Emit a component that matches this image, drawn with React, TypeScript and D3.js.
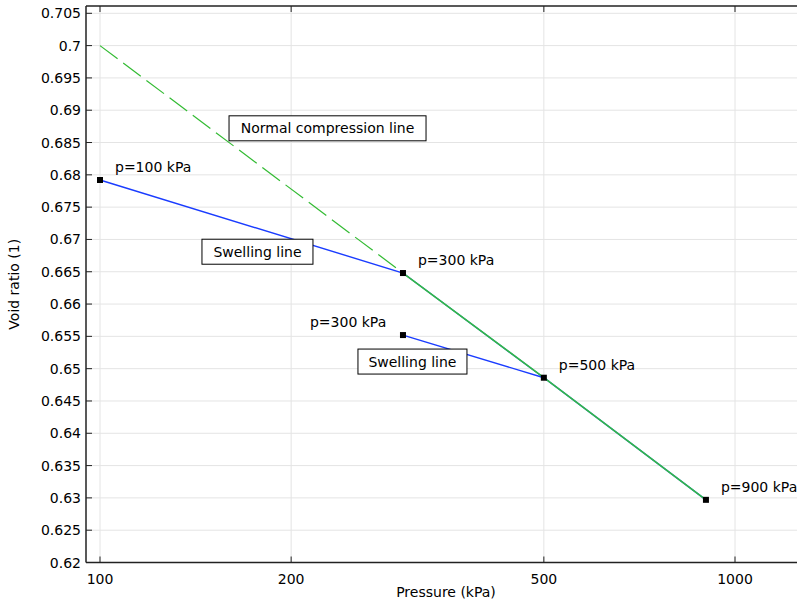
import React from "react";
import * as d3 from "d3";

const xTicks = [100, 200, 500, 1000];
const yTicks = [0.62, 0.625, 0.63, 0.635, 0.64, 0.645, 0.65, 0.655, 0.66, 0.665, 0.67, 0.675, 0.68, 0.685, 0.69, 0.695, 0.7, 0.705];

// Normal compression line
const nclDashedP = [100, 300];
const nclDashedE = [0.7, 0.6648];
const nclSolidP = [300, 500, 900];
const nclSolidE = [0.6648, 0.6486, 0.6297];

// Loading path (swelling / reloading)
const pathP = [100, 300, 500, 300, 500, 900];
const pathE = [0.6792, 0.6648, 0.6486, 0.6552, 0.6486, 0.6297];

// Marked points
const markP = [100, 300, 300, 500, 900];
const markE = [0.6792, 0.6648, 0.6552, 0.6486, 0.6297];
const markLabels = ["p=100 kPa", "p=300 kPa", "p=300 kPa", "p=500 kPa", "p=900 kPa"];
const markLabelDx = [15, 15, -93, 15, 15];
const markLabelDy = [-8, -8, -8, -8, -8];

const boxLabels = ["Normal compression line", "Swelling line", "Swelling line"];
const boxP = [228.2, 177, 310.5];
const boxE = [0.6872, 0.6681, 0.6511];
const boxW = [197, 111, 109];

const W = 797;
const H = 602;
const left = 86;
const right = 798;
const top = 6;
const bottom = 562.5;

export default function App() {
  const pxPerDecade = 635;
  const xMin = Math.pow(10, 2 + (left - 100) / pxPerDecade);
  const xMax = Math.pow(10, 2 + (right - 100) / pxPerDecade);
  const x = d3.scaleLog().domain([xMin, xMax]).range([left, right]);
  const pxPerUnit = (562.5 - 13.3) / 0.085;
  const yMax = 0.705 + (13.3 - top) / pxPerUnit;
  const y = d3.scaleLinear().domain([0.62, yMax]).range([bottom, top]);

  const mk = (ps: number[], es: number[]) =>
    d3
      .line<number>()
      .x((p) => x(p))
      .y((_, i) => y(es[i]))(ps) as string;

  const font = "DejaVu Sans, sans-serif";
  const fmtY = (v: number) => String(+v.toFixed(3));
  const fs = 14;

  return (
    <svg width={W} height={H} style={{ position: "absolute", left: 0, top: 0 }} fontFamily={font}>
      <rect x={0} y={0} width={W} height={H} fill="#fff" />
      {xTicks.map((t) => (
        <line key={"gx" + t} x1={x(t)} x2={x(t)} y1={top} y2={bottom} stroke="#e4e4e4" strokeWidth={1} />
      ))}
      {yTicks.map((t) => (
        <line key={"gy" + t} x1={left} x2={right} y1={y(t)} y2={y(t)} stroke="#e4e4e4" strokeWidth={1} />
      ))}
      <path d={mk(pathP, pathE)} fill="none" stroke="#1a3cff" strokeWidth={1.4} />
      <path d={mk(nclDashedP, nclDashedE)} fill="none" stroke="#33bb33" strokeWidth={1.2} strokeDasharray="22,7" />
      <path d={mk(nclSolidP, nclSolidE)} fill="none" stroke="#33bb44" strokeWidth={1.6} />
      {markP.map((p, i) => (
        <rect key={"m" + i} x={x(p) - 3} y={y(markE[i]) - 3} width={6} height={6} fill="#000" />
      ))}
      {markP.map((p, i) => (
        <text key={"ml" + i} x={x(p) + markLabelDx[i]} y={y(markE[i]) + markLabelDy[i]} fontSize={fs} fill="#000">
          {markLabels[i]}
        </text>
      ))}
      {boxLabels.map((s, i) => {
        const cx = x(boxP[i]);
        const cy = y(boxE[i]);
        const w = boxW[i];
        return (
          <g key={"b" + i}>
            <rect x={cx - w / 2} y={cy - 12.5} width={w} height={25} fill="#fff" stroke="#000" strokeWidth={1} />
            <text x={cx} y={cy + 5} textAnchor="middle" fontSize={fs} fill="#000">
              {s}
            </text>
          </g>
        );
      })}
      <line x1={left} x2={right} y1={bottom} y2={bottom} stroke="#222" strokeWidth={1.5} />
      <line x1={left} x2={right} y1={top} y2={top} stroke="#222" strokeWidth={1.5} />
      <line x1={left} x2={left} y1={top} y2={bottom} stroke="#222" strokeWidth={1.5} />
      {xTicks.map((t) => (
        <g key={"xt" + t}>
          <line x1={x(t)} x2={x(t)} y1={bottom} y2={bottom - 6} stroke="#222" strokeWidth={1} />
          <line x1={x(t)} x2={x(t)} y1={top} y2={top + 6} stroke="#222" strokeWidth={1} />
          <text x={x(t)} y={bottom + 21} textAnchor="middle" fontSize={fs} fill="#000">
            {t}
          </text>
        </g>
      ))}
      {yTicks.map((t) => (
        <g key={"yt" + t}>
          <line x1={left} x2={left + 6} y1={y(t)} y2={y(t)} stroke="#222" strokeWidth={1} />
          <text x={left - 5} y={y(t) + 5} textAnchor="end" fontSize={fs} fill="#000">
            {fmtY(t)}
          </text>
        </g>
      ))}
      <text x={446} y={597} textAnchor="middle" fontSize={fs} fill="#000">
        Pressure (kPa)
      </text>
      <text transform={`translate(19,${(top + bottom) / 2}) rotate(-90)`} textAnchor="middle" fontSize={fs} fill="#000">
        Void ratio (1)
      </text>
    </svg>
  );
}
